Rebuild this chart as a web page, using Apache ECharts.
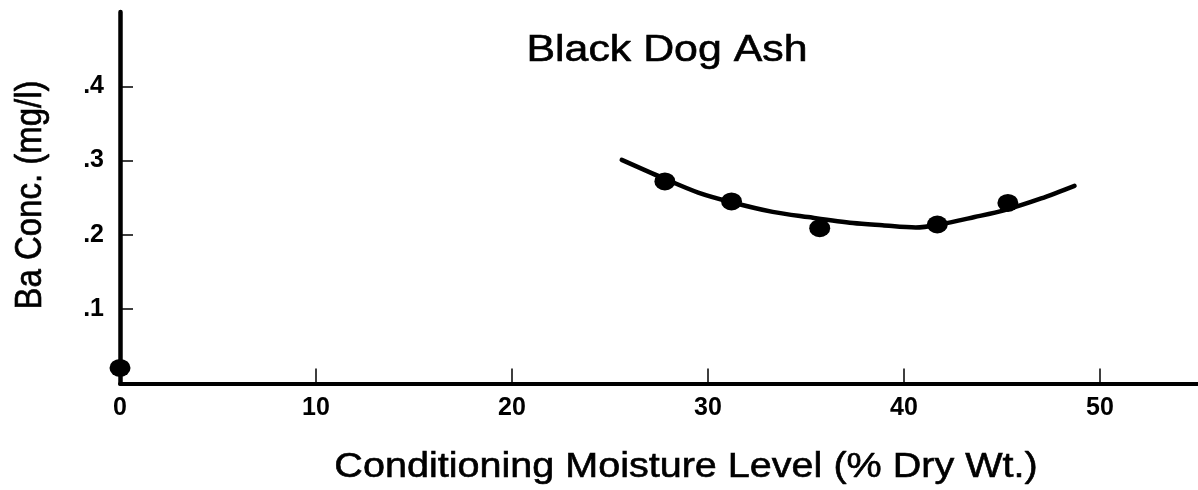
<!DOCTYPE html>
<html>
<head>
<meta charset="utf-8">
<script src="https://cdn.jsdelivr.net/npm/echarts@6/dist/echarts.min.js"></script>
<style>
  html, body { margin: 0; padding: 0; background: #fff; }
  #chart { width: 1198px; height: 490px; }
</style>
</head>
<body>
<div id="chart"></div>
<script>
// Measured Ba concentration vs. conditioning moisture
const moisture = [0, 27.8, 31.2, 35.7, 41.7, 45.3];
const baConc = [0.021, 0.272, 0.245, 0.209, 0.214, 0.243];

// Hand-fitted trend curve
const curveX = [25.6, 27.75, 29.5, 31.2, 33.3, 35.1, 37.4, 38.9, 40.6, 41.8, 43.6, 45.1, 47.0, 48.7];
const curveY = [0.301, 0.276, 0.257, 0.244, 0.231, 0.224, 0.216, 0.213, 0.210, 0.214, 0.224, 0.233, 0.249, 0.266];

// Tick positions and their labels
const xTicks = [0, 10, 20, 30, 40, 50];
const yTicks = [0.1, 0.2, 0.3, 0.4];
const yTickLabels = ['.1', '.2', '.3', '.4'];

const titleText = 'Black Dog Ash';
const xName = 'Conditioning Moisture Level (% Dry Wt.)';
const yName = 'Ba Conc. (mg/l)';

const FONT = '"Liberation Sans", Arial, Helvetica, sans-serif';

const chart = echarts.init(document.getElementById('chart'), null, { renderer: 'canvas' });

// Horizontally widened text (rotated variant widens across the line instead)
function wideText(text, x, y, size, sx, rot) {
  return {
    type: 'text',
    x: x, y: y,
    rotation: rot || 0,
    scaleX: rot ? 1 : sx,
    scaleY: rot ? sx : 1,
    silent: true,
    style: {
      text: text,
      x: 0, y: 0,
      fill: '#000',
      stroke: '#000',
      lineWidth: 0.6,
      font: 'normal ' + size + 'px ' + FONT,
      align: 'center',
      verticalAlign: 'middle'
    }
  };
}

chart.setOption({
  animation: false,
  backgroundColor: '#ffffff',
  graphic: [
    wideText(titleText, 667, 51, 36, 1.19),
    wideText(xName, 686, 467, 35, 1.13),
    wideText(yName, 31, 195, 33, 1.12, Math.PI / 2)
  ],
  grid: { left: 120, right: 0, top: 12, bottom: 106.5, containLabel: false, outerBoundsMode: 'none' },
  xAxis: {
    type: 'value',
    min: 0,
    max: 55,
    interval: 10,
    axisLine: { show: true, onZero: false, lineStyle: { color: '#000', width: 4 } },
    axisTick: {
      show: true, inside: true, length: 15,
      customValues: xTicks.slice(1),
      lineStyle: { color: '#000', width: 1.5 }
    },
    axisLabel: {
      margin: 12,
      customValues: xTicks,
      fontFamily: FONT, fontSize: 25, fontWeight: 'bold', color: '#000',
      formatter: v => String(v)
    },
    splitLine: { show: false }
  },
  yAxis: {
    type: 'value',
    min: 0,
    max: 0.5,
    interval: 0.1,
    axisLine: { show: true, onZero: false, lineStyle: { color: '#000', width: 4.5 } },
    axisTick: {
      show: true, inside: true, length: 13,
      customValues: yTicks,
      lineStyle: { color: '#000', width: 1.5 }
    },
    axisLabel: {
      margin: 16,
      customValues: yTicks,
      fontFamily: FONT, fontSize: 25, fontWeight: 'bold', color: '#000',
      formatter: v => {
        const i = yTicks.findIndex(t => Math.abs(t - v) < 1e-6);
        return i >= 0 ? yTickLabels[i] : '';
      }
    },
    splitLine: { show: false }
  },
  series: [
    {
      name: 'trend',
      type: 'line',
      smooth: 0.3,
      showSymbol: false,
      data: curveX.map((x, i) => [x, curveY[i]]),
      lineStyle: { color: '#000', width: 4.5, cap: 'round' },
      z: 2
    },
    {
      name: 'measured',
      type: 'scatter',
      symbol: 'circle',
      symbolSize: [21, 18],
      data: moisture.map((x, i) => [x, baConc[i]]),
      itemStyle: { color: '#000', opacity: 1 },
      z: 3
    }
  ]
});
</script>
</body>
</html>
